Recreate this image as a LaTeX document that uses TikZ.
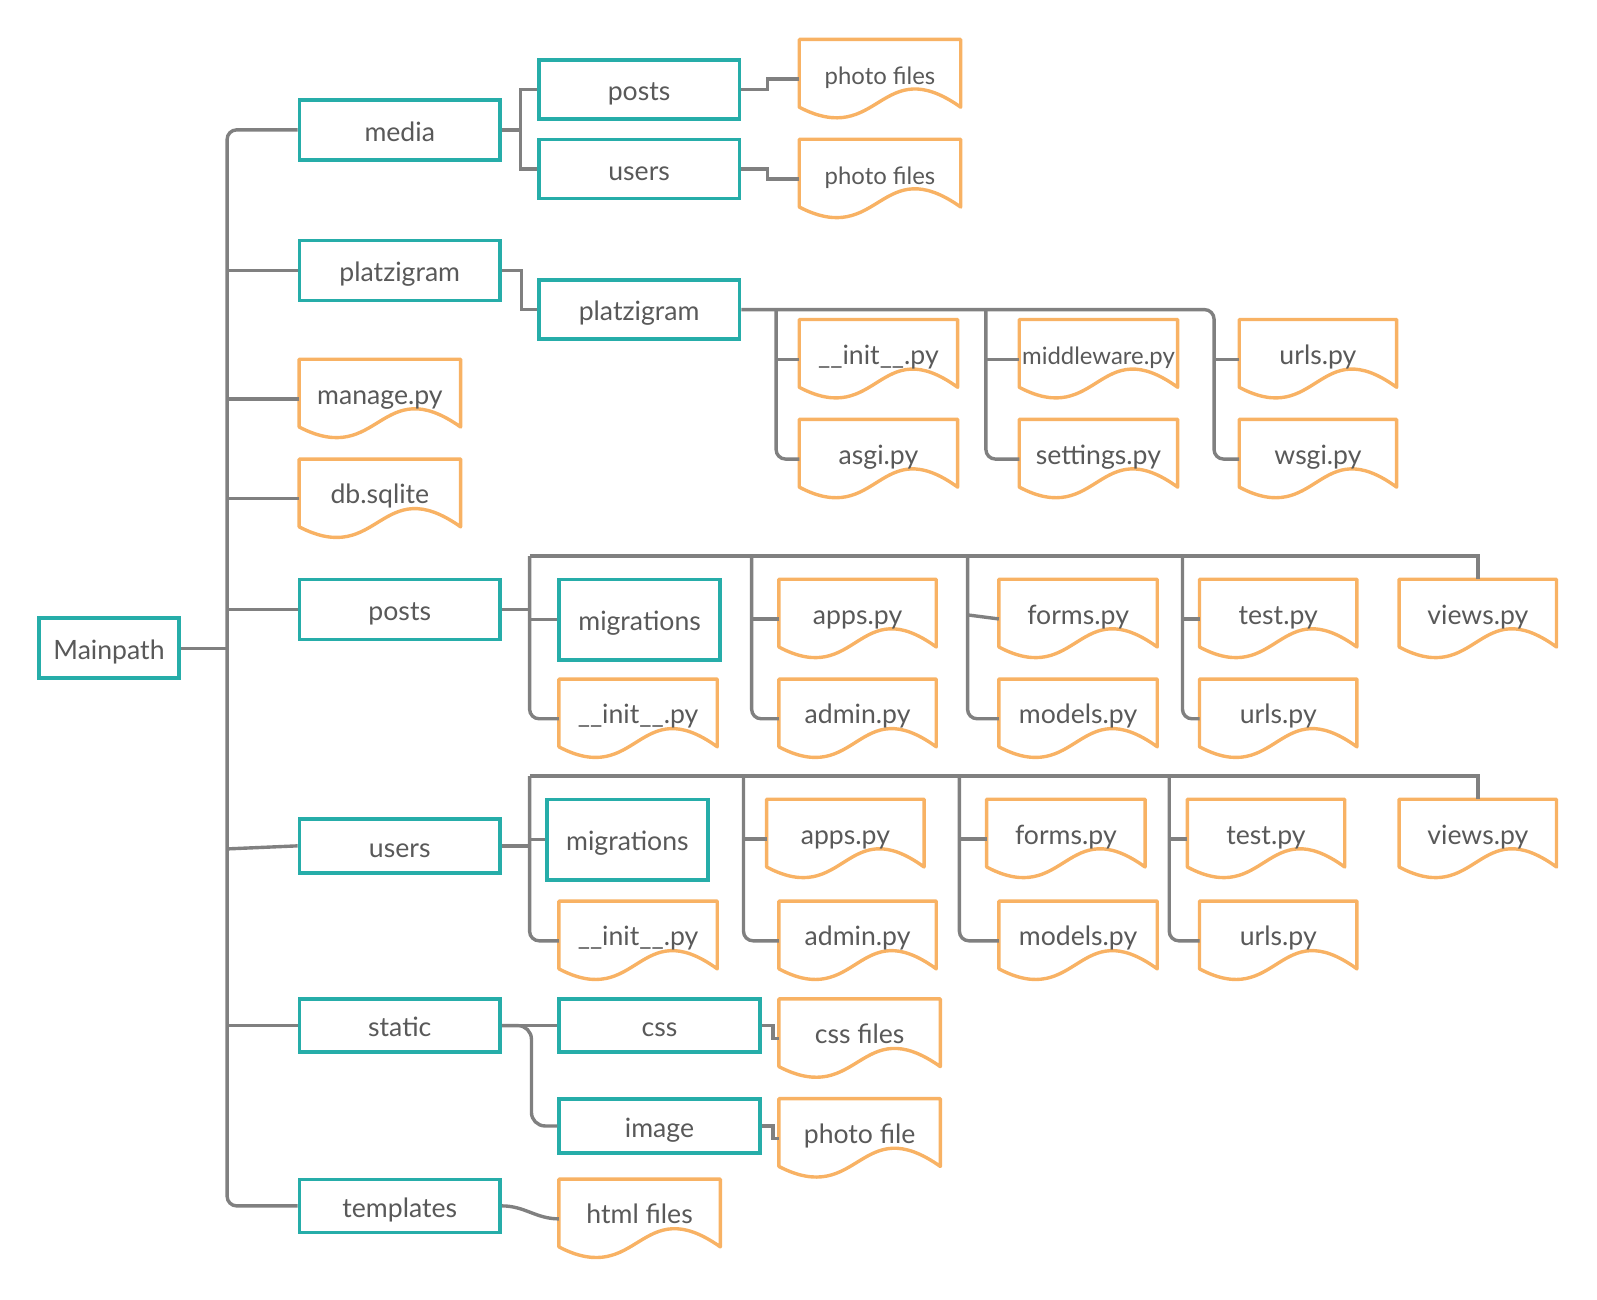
\documentclass[tikz,border=0pt]{standalone}
\usepackage{fontspec}
\setmainfont{Lato}
\usetikzlibrary{calc,fit}
\definecolor{teal1}{RGB}{38,173,169}
\definecolor{orng}{RGB}{248,178,100}
\definecolor{cgray}{RGB}{128,128,128}
\definecolor{tgray}{RGB}{89,89,89}
\newcommand\mainfs{\fontsize{19.6}{22}\selectfont}
\newcommand\smallfs{\fontsize{17.6}{20}\selectfont}
\tikzset{
  tealbox/.style={draw=teal1, line width=2.7pt, inner sep=0pt},
  docframe/.style={inner sep=0pt},
  docline/.style={draw=orng, line width=2.5pt, line join=round},
  lbl/.style={text=tgray, inner sep=0pt, anchor=base},
  conn/.style={draw=cgray, line width=2.5pt},
  rc/.style={rounded corners=7pt},
}
% teal box: name, x1, y1, x2, y2, text
\newcommand\tbox[6]{%
  \node[tealbox, fit={(#2,#3)(#4,#5)}] (#1) {};
  \node[lbl, font=\mainfs] at ($(#1.center)+(0,11)$) {#6};
}
% document: [font] name, x1, y1, x2, text
\newcommand\docn[6][\mainfs]{%
  \node[docframe, fit={(#3,#4)(#5,{#4+66})}] (#2) {};
  \draw[docline] (#2.north west) -- (#2.north east) -- (#2.south east)
     .. controls ($(#2.south)+(0,-56)$) and ($(#2.south)+(0,41)$) .. (#2.south west) -- cycle;
  \node[lbl, font=#1] at ($(#2.north)+(0,44)$) {#6};
  \coordinate (#2-in) at ($(#2.north west)+(0,39)$);
}
\begin{document}
\begin{tikzpicture}[x=0.75pt, y=-0.75pt]
\useasboundingbox (0,0) rectangle (1568,1276);

% teal boxes
\tbox{main}{38}{607}{176}{666}{Mainpath}
\tbox{media}{294}{98}{491}{157}{media}
\tbox{platz}{294}{236}{491}{295}{platzigram}
\tbox{mposts}{529}{59}{726}{117}{posts}
\tbox{musers}{529}{137}{726}{195}{users}
\tbox{platz2}{529}{275}{726}{333}{platzigram}
\tbox{posts}{294}{569}{491}{628}{posts}
\tbox{pmig}{549}{569}{707}{648}{migrations}
\tbox{users}{294}{804}{491}{857}{users}
\tbox{umig}{537}{785}{695}{864}{migrations}
\tbox{static}{294}{981}{491}{1033}{static}
\tbox{css}{549}{981}{746}{1033}{css}
\tbox{image}{549}{1079}{746}{1132}{image}
\tbox{templates}{294}{1158}{491}{1210}{templates}

% documents
\docn[\smallfs]{ph1}{785}{39}{943}{photo files}
\docn[\smallfs]{ph2}{785}{137}{943}{photo files}
\docn{manage}{294}{353}{452}{manage.py}
\docn{db}{294}{451}{452}{db.sqlite}
\docn{pinit0}{785}{314}{940}{\_\_init\_\_.py}
\docn{asgi}{785}{412}{940}{asgi.py}
\docn[\smallfs]{mid}{1001}{314}{1156}{middleware.py}
\docn{settings}{1001}{412}{1156}{settings.py}
\docn{purls0}{1217}{314}{1371}{urls.py}
\docn{wsgi}{1217}{412}{1371}{wsgi.py}

\docn{pinit}{549}{667}{704}{\_\_init\_\_.py}
\docn{papps}{765}{569}{919}{apps.py}
\docn{padmin}{765}{667}{919}{admin.py}
\docn{pforms}{981}{569}{1136}{forms.py}
\docn{pmodels}{981}{667}{1136}{models.py}
\docn{ptest}{1178}{569}{1332}{test.py}
\docn{purls}{1178}{667}{1332}{urls.py}
\docn{pviews}{1374}{569}{1528}{views.py}

\docn{uinit}{549}{885}{704}{\_\_init\_\_.py}
\docn{uapps}{753}{785}{907}{apps.py}
\docn{uadmin}{765}{885}{919}{admin.py}
\docn{uforms}{969}{785}{1124}{forms.py}
\docn{umodels}{981}{885}{1136}{models.py}
\docn{utest}{1166}{785}{1320}{test.py}
\docn{uurls}{1178}{885}{1332}{urls.py}
\docn{uviews}{1374}{785}{1528}{views.py}

\docn{cssf}{765}{981}{923}{css files}
\docn{photof}{765}{1079}{923}{photo file}
\docn{html}{549}{1158}{707}{html files}

% trunk
\coordinate (tx) at (223,0);
\draw[conn, rc] (media.west) -| (tx |- templates.west) -- (templates.west);
\draw[conn] (main.east) -- (tx |- main.east);
\foreach \n in {platz, posts, static} \draw[conn] (tx |- \n.west) -- (\n.west);
\foreach \n in {manage, db} \draw[conn] (tx |- \n-in) -- (\n-in);
\draw[conn] ($(tx |- users.west)+(0,3)$) -- (users.west);

% media
\coordinate (mj) at ($(media.east)+(18,0)$);
\draw[conn] (media.east) -- (mj);
\draw[conn] (mposts.west) -| (mj) |- (musers.west);
\draw[conn] (mposts.east) -- ++(26,0) |- (ph1-in);
\draw[conn] (musers.east) -- ++(26,0) |- (ph2-in);

% platzigram
\draw[conn] (platz.east) -- ++(19,0) |- (platz2.west);
\coordinate (b1) at (762,0);
\coordinate (b2) at (968,0);
\coordinate (b3) at (1192,0);
\draw[conn, rc] (platz2.east) -| (b3 |- wsgi-in) -- (wsgi-in);
\draw[conn] (b3 |- purls0-in) -- (purls0-in);
\draw[conn, rc] (b1 |- platz2.east) -- (b1 |- asgi-in) -- (asgi-in);
\draw[conn] (b1 |- pinit0-in) -- (pinit0-in);
\draw[conn, rc] (b2 |- platz2.east) -- (b2 |- settings-in) -- (settings-in);
\draw[conn] (b2 |- mid-in) -- (mid-in);

% posts
\coordinate (pbar) at (520,546);
\coordinate (pb1) at (738,546);
\coordinate (pb2) at (950,546);
\coordinate (pb3) at (1161,546);
\draw[conn] (posts.east) -- (pbar |- posts.east);
\draw[conn] (pbar) -| (pviews.north);
\draw[conn, rc] (pbar) |- (pinit-in);
\draw[conn] (pbar |- pmig.west) -- (pmig.west);
\draw[conn, rc] (pb1) |- (padmin-in);
\draw[conn] (pb1 |- papps-in) -- (papps-in);
\draw[conn, rc] (pb2) |- (pmodels-in);
\draw[conn] ($(pb2 |- pforms-in)+(0,-4)$) -- (pforms-in);
\draw[conn, rc] (pb3) |- (purls-in);
\draw[conn] (pb3 |- ptest-in) -- (ptest-in);

% users
\coordinate (ubar) at (520,762);
\coordinate (ub1) at (730,762);
\coordinate (ub2) at (942,762);
\coordinate (ub3) at (1148,762);
\draw[conn] (users.east) -- (ubar |- users.east);
\draw[conn] (ubar) -| (uviews.north);
\draw[conn, rc] (ubar) |- (uinit-in);
\draw[conn] (ubar |- umig.west) -- (umig.west);
\draw[conn, rc] (ub1) |- (uadmin-in);
\draw[conn] (ub1 |- uapps-in) -- (uapps-in);
\draw[conn, rc] (ub2) |- (umodels-in);
\draw[conn] (ub2 |- uforms-in) -- (uforms-in);
\draw[conn, rc] (ub3) |- (uurls-in);
\draw[conn] (ub3 |- utest-in) -- (utest-in);

% static / templates
\draw[conn] (static.east) -- (css.west);
\draw[conn, rounded corners=10pt] (static.east) -- ++(29,0) |- (image.west);
\draw[conn] (css.east) -- ++(11,0) |- (cssf-in);
\draw[conn] (image.east) -- ++(11,0) |- (photof-in);
\draw[conn] (templates.east) to[out=0, in=180] (html-in);
\end{tikzpicture}
\end{document}
